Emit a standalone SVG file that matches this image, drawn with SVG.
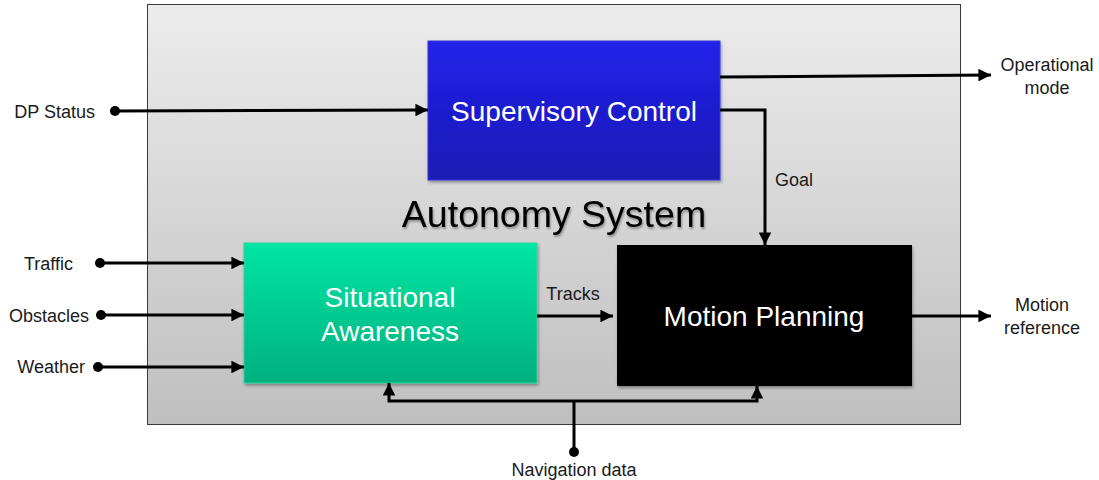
<svg xmlns="http://www.w3.org/2000/svg" width="1099" height="480" viewBox="0 0 1099 480">
  <defs>
    <linearGradient id="bgGrad" x1="0" y1="0" x2="0" y2="1">
      <stop offset="0" stop-color="#ececec"/>
      <stop offset="1" stop-color="#bfbfbf"/>
    </linearGradient>
    <linearGradient id="blueGrad" x1="0" y1="0" x2="0" y2="1">
      <stop offset="0" stop-color="#2222ea"/>
      <stop offset="1" stop-color="#1a1ab4"/>
    </linearGradient>
    <linearGradient id="greenGrad" x1="0" y1="0" x2="0" y2="1">
      <stop offset="0" stop-color="#00e6a3"/>
      <stop offset="1" stop-color="#00b07f"/>
    </linearGradient>
    <filter id="shadow" x="-10%" y="-10%" width="120%" height="130%">
      <feDropShadow dx="1" dy="2" stdDeviation="1.5" flood-color="#000" flood-opacity="0.35"/>
    </filter>
    <filter id="textShadow" x="-5%" y="-20%" width="110%" height="140%">
      <feDropShadow dx="1" dy="2" stdDeviation="1" flood-color="#000" flood-opacity="0.35"/>
    </filter>
    <marker id="arrow" viewBox="0 0 10 10" refX="10" refY="5" markerWidth="4.2" markerHeight="4.2" orient="auto" markerUnits="strokeWidth">
      <path d="M0,0 L10,5 L0,10 z" fill="#000"/>
    </marker>
  </defs>
  <style>
    .wire { fill: none; stroke: #000; stroke-width: 3; }
    .dot { fill: #000; }
    .lbl { font-family: "Liberation Sans", Arial, sans-serif; font-size: 18px; fill: #1a1a1a; }
    .blk { font-family: "Liberation Sans", Arial, sans-serif; font-size: 28px; fill: #fff; text-anchor: middle; }
  </style>

  <!-- system boundary -->
  <g id="autonomy-system">
    <rect x="147.5" y="4.5" width="813" height="420" fill="url(#bgGrad)" stroke="#3a3a3a" stroke-width="1"/>
    <text x="554" y="227" font-family="Liberation Sans, Arial, sans-serif" font-size="37.5" fill="#000" text-anchor="middle" filter="url(#textShadow)">Autonomy System</text>
  </g>

  <g id="supervisory-control">
    <rect x="428" y="41" width="292" height="139" fill="url(#blueGrad)" stroke="#3a3ad8" stroke-width="1" filter="url(#shadow)"/>
    <text class="blk" x="574" y="121">Supervisory Control</text>
  </g>

  <g id="situational-awareness">
    <rect x="244" y="243" width="293" height="140" fill="url(#greenGrad)" stroke="#2fd6a0" stroke-width="1" filter="url(#shadow)"/>
    <text class="blk" x="390" y="307">Situational</text>
    <text class="blk" x="390" y="341">Awareness</text>
  </g>

  <g id="motion-planning">
    <rect x="617" y="245" width="295" height="141" fill="#000" filter="url(#shadow)"/>
    <text class="blk" x="764" y="326" font-size="30">Motion Planning</text>
  </g>

  <!-- connectors -->
  <g id="connectors">
    <!-- DP status into supervisory control -->
    <circle class="dot" cx="115" cy="111" r="5"/>
    <line class="wire" x1="115" y1="111" x2="428" y2="110" marker-end="url(#arrow)"/>
    <!-- operational mode out -->
    <line class="wire" x1="720" y1="77" x2="991" y2="75" marker-end="url(#arrow)"/>
    <!-- goal -->
    <polyline class="wire" points="720,110 765,110 765,245" marker-end="url(#arrow)"/>
    <!-- inputs to situational awareness -->
    <circle class="dot" cx="100" cy="263" r="5"/>
    <line class="wire" x1="100" y1="263" x2="244" y2="263" marker-end="url(#arrow)"/>
    <circle class="dot" cx="101" cy="315" r="5"/>
    <line class="wire" x1="101" y1="315" x2="244" y2="315" marker-end="url(#arrow)"/>
    <circle class="dot" cx="98" cy="367" r="5"/>
    <line class="wire" x1="98" y1="367" x2="244" y2="367" marker-end="url(#arrow)"/>
    <!-- tracks -->
    <line class="wire" x1="537" y1="316" x2="613" y2="316" marker-end="url(#arrow)"/>
    <!-- motion reference out -->
    <line class="wire" x1="912" y1="316" x2="991" y2="316" marker-end="url(#arrow)"/>
    <!-- navigation data -->
    <circle class="dot" cx="574" cy="452" r="5"/>
    <line class="wire" x1="574" y1="452" x2="574" y2="401"/>
    <polyline class="wire" points="574,401 389,401 389,383" marker-end="url(#arrow)"/>
    <polyline class="wire" points="574,401 757,401 757,386" marker-end="url(#arrow)"/>
  </g>

  <!-- signal labels -->
  <g id="labels">
    <text class="lbl" x="95" y="118" text-anchor="end">DP Status</text>
    <text class="lbl" x="1047" y="71" text-anchor="middle">Operational</text>
    <text class="lbl" x="1047" y="94" text-anchor="middle">mode</text>
    <text class="lbl" x="775" y="186">Goal</text>
    <text class="lbl" x="73" y="270" text-anchor="end">Traffic</text>
    <text class="lbl" x="89" y="322" text-anchor="end">Obstacles</text>
    <text class="lbl" x="85" y="373" text-anchor="end">Weather</text>
    <text class="lbl" x="573" y="300" text-anchor="middle">Tracks</text>
    <text class="lbl" x="1042" y="311" text-anchor="middle">Motion</text>
    <text class="lbl" x="1042" y="334" text-anchor="middle">reference</text>
    <text class="lbl" x="574" y="476" text-anchor="middle">Navigation data</text>
  </g>
</svg>
